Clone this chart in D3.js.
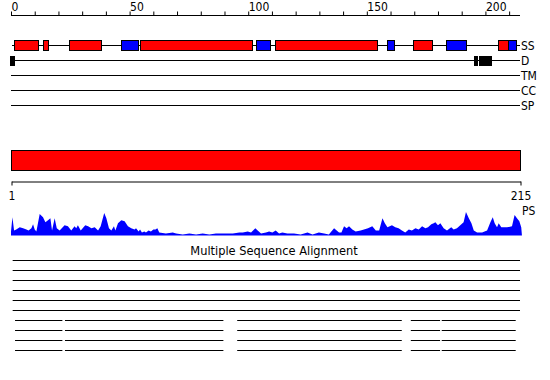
<!DOCTYPE html>
<html>
<head>
<meta charset="utf-8">
<script src="https://cdn.jsdelivr.net/npm/d3@7"></script>
<style>
  body { margin: 0; background: #fff; }
  svg { display: block; }
  text { font-family: "DejaVu Sans Condensed", "DejaVu Sans", sans-serif; font-size: 12px; fill: #000; }
</style>
</head>
<body>
<svg width="550" height="380"></svg>
<script>
var seqLength = 215;
var topTicks = d3.range(0, 211, 10);
var topLabels = [0, 50, 100, 150, 200];
var bottomLabels = [1, 215];
var trackNames = ["SS", "D", "TM", "CC", "SP"];

// secondary structure: [start, end, type]  H = helix (red), E = strand (blue)
var ssElements = [
    [1.4, 11.5, "H"], [13.6, 15.5, "H"], [24.6, 37.8, "H"], [46.4, 53.7, "E"],
    [54.5, 101.5, "H"], [103.3, 109.3, "E"], [111.3, 154.4, "H"], [158.6, 161.6, "E"],
    [169.6, 177.6, "H"], [183.4, 191.7, "E"], [205.4, 209.7, "H"], [209.7, 212.8, "E"]
];
// disorder blocks
var disorder = [[-0.4, 1.7], [195.3, 197.0], [197.3, 202.7]];

// PS profile: [position, score]
var psProfile = [
    [0, 4], [0.6, 18], [1.3, 5], [2.2, 6], [3.7, 8], [5.1, 7], [6.5, 6], [7.4, 5], [8.6, 7], [9.3, 11],
    [10, 6], [10.7, 4], [12.1, 21], [13.5, 18], [14.5, 13], [15.6, 15], [16.6, 17], [17.3, 5], [18.4, 17],
    [19.3, 7], [20.5, 5], [22.6, 10], [24, 9], [25.4, 5], [26.8, 9], [27.5, 7], [28.2, 10], [29.4, 5],
    [31.3, 10], [32.5, 9], [33.9, 7], [35.3, 8], [36.7, 5], [37.8, 9], [39.3, 22], [40.2, 17], [41.3, 7],
    [42.3, 5], [43.4, 9], [44, 5], [45.1, 12], [46.5, 15], [47.9, 14], [49.3, 9], [50.7, 7], [52.1, 6],
    [52.7, 7], [53.8, 4], [54.4, 6], [55.2, 3], [56.2, 4], [56.9, 3], [58, 5], [59, 4], [60, 6], [60.9, 6],
    [61.7, 7], [62.5, 3], [65.3, 2], [68.2, 3], [69.6, 2], [72.4, 1], [75.2, 2], [78, 1], [80.8, 2],
    [83.6, 1], [86.4, 2], [89.2, 2], [93.5, 2], [96.3, 3], [97.7, 3], [99.8, 4], [101.2, 3], [103, 7],
    [104, 5], [105.4, 2], [107.5, 3], [108.8, 4], [110.2, 3], [111.6, 5], [113, 2], [114.4, 3], [116.5, 2],
    [119.3, 2], [122.1, 1], [125, 3], [127.1, 1], [129.8, 3], [132, 2], [134, 1], [136.2, 7], [138.3, 3],
    [139.3, 3], [140.4, 9], [141.5, 7], [142.5, 9], [143.9, 6], [145.3, 4], [147.4, 5], [148.8, 6],
    [150.5, 7], [152.3, 9], [153.8, 5], [155.2, 5], [156.6, 17], [157.6, 12], [158.7, 8], [160.6, 10],
    [162, 8], [163.4, 7], [164.8, 5], [166.2, 3], [167.7, 6], [169, 5], [170.5, 7], [171.9, 6], [173.3, 9],
    [174.7, 7], [175.8, 8], [177.2, 11], [178.2, 12], [178.9, 13], [180, 10], [181, 12], [182.4, 7],
    [183.8, 5], [185.6, 8], [186.6, 6], [188, 7], [189.4, 10], [190.8, 13], [191.8, 23], [193, 17],
    [194.1, 12], [195.1, 5], [196.5, 3], [198.6, 3], [200.7, 5], [202.1, 13], [203.1, 18], [203.9, 12],
    [204.9, 8], [205.6, 12], [206.7, 8], [209.1, 8], [211.2, 9], [212.3, 20], [213.3, 17], [214.3, 14],
    [215.1, 8], [215.4, 0]
];

// alignment rows: list of [start, end] segments
var msaFull = [[1.7, 215]];
var msaSplit = [[2.7, 22.6], [23.7, 90.3], [96.1, 165.3], [169.1, 181.4], [182.1, 213.2]];
var msaRows = [msaFull, msaFull, msaFull, msaFull, msaFull, msaFull, msaSplit, msaSplit, msaSplit, msaSplit];
var msaTitle = "Multiple Sequence Alignment";

var svg = d3.select("svg");
var x = d3.scaleLinear().domain([0, seqLength]).range([11, 521]);
var xb = d3.scaleLinear().domain([1, seqLength]).range([11, 520]);

// top ruler
var topAxis = svg.append("g")
    .attr("transform", "translate(0,15.5)")
    .call(d3.axisTop(x).tickValues(topTicks).tickSize(4).tickSizeOuter(0)
        .tickFormat(function(d) { return topLabels.indexOf(d) >= 0 ? d : ""; }));
topAxis.attr("font-family", null).attr("font-size", null);
topAxis.select(".domain").attr("stroke", "#000").attr("d", "M" + x(0) + ",0H" + (x(seqLength) - 1));
topAxis.selectAll(".tick line").attr("stroke", "#000");
topAxis.selectAll("text")
    .attr("text-anchor", "start")
    .attr("y", -4.5)
    .attr("dy", 0);

// tracks
var trackY = d3.scalePoint().domain(trackNames).range([45, 105]);
svg.selectAll(".track")
    .data(trackNames)
    .enter().append("line")
    .attr("x1", function(d) { return d == "SS" ? 12 : x(0); })
    .attr("x2", x(seqLength) - 1)
    .attr("y1", function(d) { return trackY(d) + 0.5; })
    .attr("y2", function(d) { return trackY(d) + 0.5; })
    .attr("stroke", "#000");

svg.selectAll(".trackLabel")
    .data(trackNames)
    .enter().append("text")
    .attr("x", x(seqLength))
    .attr("y", function(d) { return trackY(d) + 5; })
    .text(function(d) { return d; });

svg.selectAll(".ss")
    .data(ssElements)
    .enter().append("rect")
    .attr("x", function(d) { return Math.round(x(d[0])) + 0.5; })
    .attr("y", trackY("SS") - 4.5)
    .attr("width", function(d) { return Math.round(x(d[1])) - Math.round(x(d[0])); })
    .attr("height", 10)
    .attr("fill", function(d) { return d[2] == "H" ? "#ff0000" : "#0000ff"; })
    .attr("stroke", "#000");

svg.selectAll(".dis")
    .data(disorder)
    .enter().append("rect")
    .attr("x", function(d) { return Math.round(x(d[0])); })
    .attr("y", trackY("D") - 4)
    .attr("width", function(d) { return Math.round(x(d[1])) - Math.round(x(d[0])); })
    .attr("height", 10)
    .attr("fill", "#000");

// whole-sequence bar
svg.append("rect")
    .attr("x", xb(1) + 0.5)
    .attr("y", 150.5)
    .attr("width", xb(seqLength) - xb(1))
    .attr("height", 20)
    .attr("fill", "#ff0000")
    .attr("stroke", "#000");

// bottom ruler
var bottomAxis = svg.append("g")
    .attr("transform", "translate(0.5,181.5)")
    .call(d3.axisBottom(xb).tickValues(bottomLabels).tickSize(4).tickSizeOuter(0));
bottomAxis.attr("font-family", null).attr("font-size", null);
bottomAxis.select(".domain").attr("stroke", "#000");
bottomAxis.selectAll(".tick line").attr("stroke", "#000");
bottomAxis.selectAll("text").attr("y", 18).attr("dy", 0);

// PS profile
var yPs = d3.scaleLinear().domain([0, 25]).range([235.5, 210]);
var area = d3.area()
    .x(function(d) { return x(d[0]); })
    .y0(yPs(0))
    .y1(function(d) { return yPs(d[1]); });
svg.append("path")
    .datum(psProfile)
    .attr("fill", "#0000ff")
    .attr("d", area);
svg.append("text")
    .attr("x", x(seqLength) + 1)
    .attr("y", 215)
    .text("PS");

// alignment
svg.append("text")
    .attr("x", 274)
    .attr("y", 255)
    .attr("text-anchor", "middle")
    .style("font-size", "12.7px")
    .text(msaTitle);

var rowY = d3.scaleLinear().domain([0, msaRows.length - 1]).range([260.5, 350.5]);
msaRows.forEach(function(row, i) {
    svg.selectAll(".seg" + i)
        .data(row)
        .enter().append("line")
        .attr("x1", function(d) { return xb(d[0]); })
        .attr("x2", function(d) { return xb(d[1]); })
        .attr("y1", rowY(i))
        .attr("y2", rowY(i))
        .attr("stroke", "#000");
});
</script>
</body>
</html>
